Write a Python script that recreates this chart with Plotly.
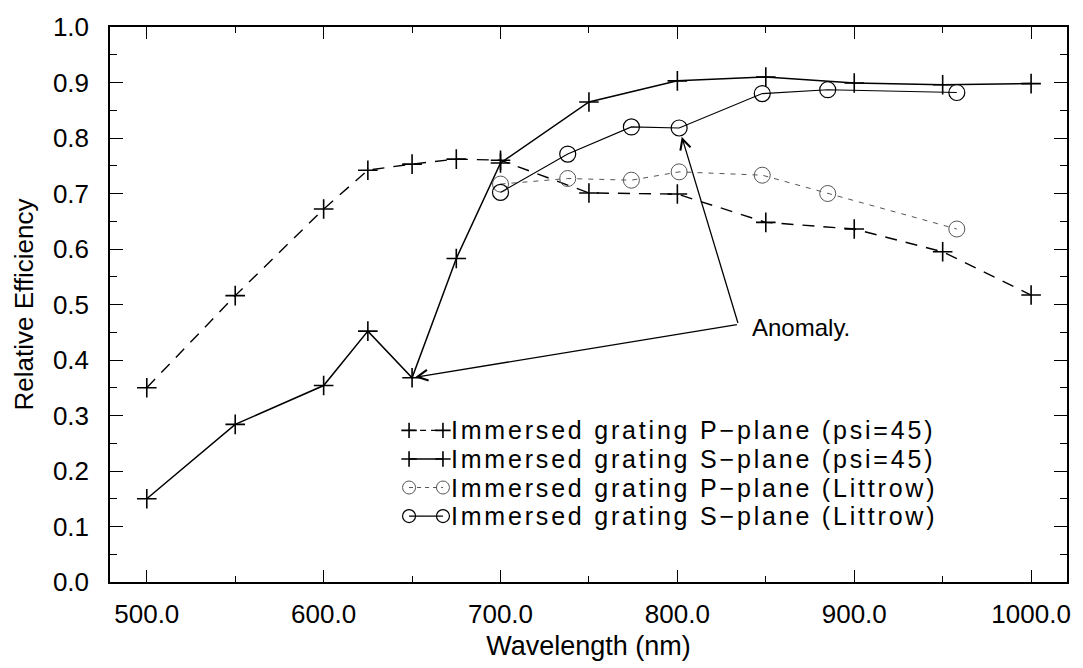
import plotly.graph_objects as go

# Immersed grating at psi=45: measured wavelengths (nm) and relative efficiency
wl_psi = [500, 550, 600, 625, 650, 675, 700, 750, 800, 850, 900, 950, 1000]
eff_p_psi = [0.350, 0.516, 0.672, 0.742, 0.753, 0.762, 0.760, 0.701, 0.699, 0.648, 0.636, 0.595, 0.517]
eff_s_psi = [0.150, 0.284, 0.354, 0.452, 0.368, 0.583, 0.755, 0.865, 0.903, 0.910, 0.899, 0.896, 0.898]

# Immersed grating in Littrow configuration
wl_lit = [700, 738, 774, 801, 848, 885, 958]
eff_p_lit = [0.717, 0.727, 0.724, 0.739, 0.733, 0.700, 0.636]
eff_s_lit = [0.702, 0.771, 0.820, 0.818, 0.880, 0.887, 0.882]

names = [
    "Immersed grating P\u2212plane (psi=45)",
    "Immersed grating S\u2212plane (psi=45)",
    "Immersed grating P\u2212plane (Littrow)",
    "Immersed grating S\u2212plane (Littrow)",
]

x_ticks = [500, 600, 700, 800, 900, 1000]
x_ticktext = ["500.0", "600.0", "700.0", "800.0", "900.0", "1000.0"]
y_ticks = [0.0, 0.1, 0.2, 0.3, 0.4, 0.5, 0.6, 0.7, 0.8, 0.9, 1.0]
y_ticktext = [f"{v:.1f}" for v in y_ticks]

FONT = "Liberation Sans, Arial, Helvetica, sans-serif"
W, H = 1083, 668
M_L, M_R, M_T, M_B = 110, 13, 21, 76

# trace styles shared by the plot and the legend key
line_styles = [
    dict(color="black", width=1.4, dash="12px,9px"),
    dict(color="black", width=1.5),
    dict(color="#555555", width=1.0, dash="5px,6px"),
    dict(color="black", width=1.1),
]
marker_styles = [
    dict(symbol="cross-thin", line=dict(color="black", width=1.6)),
    dict(symbol="cross-thin", line=dict(color="black", width=1.6)),
    dict(symbol="circle-open", color="#555555", line=dict(color="#555555", width=1.0)),
    dict(symbol="circle-open", color="black", line=dict(color="black", width=1.2)),
]
plot_sizes = [14, 14, 16, 16]
key_sizes = [11, 11, 13, 13]
key_dashes = ["6px,5px", None, "4px,4px", None]
series = [(wl_psi, eff_p_psi), (wl_psi, eff_s_psi), (wl_lit, eff_p_lit), (wl_lit, eff_s_lit)]

fig = go.Figure()
for (xs, ys), name, ls, ms, sz in zip(series, names, line_styles, marker_styles, plot_sizes):
    fig.add_trace(go.Scatter(x=xs, y=ys, name=name, mode="lines+markers",
                             line=ls, marker=dict(size=sz, **ms), showlegend=False))

# Legend key drawn on a pixel-unit overlay axis: short sample with a marker at each end
LEG_X0, LEG_X1, LEG_TEXT_X = 410, 444, 450
LEG_TOP, LEG_STEP = 436, 29.4
for i, (name, ls, ms, sz, kd) in enumerate(zip(names, line_styles, marker_styles, key_sizes, key_dashes)):
    row_y = LEG_TOP + i * LEG_STEP
    key_line = dict(ls)
    if kd:
        key_line["dash"] = kd
    fig.add_trace(go.Scatter(
        x=[LEG_X0, LEG_X1], y=[row_y, row_y], mode="lines+markers",
        line=key_line, marker=dict(size=sz, **ms),
        xaxis="x2", yaxis="y2", showlegend=False, hoverinfo="skip",
    ))
    fig.add_annotation(
        x=LEG_TEXT_X, y=row_y, xref="x2", yref="y2",
        text=f'<span style="letter-spacing:2.8px">{name}</span>', showarrow=False,
        xanchor="left", yanchor="middle",
        font=dict(family=FONT, size=25, color="black"),
    )

# "Anomaly." callout: two arrows from a common vertex
vertex_x, vertex_y = 834.5, 0.464
arrow_common = dict(
    text="", showarrow=True, arrowhead=5, arrowsize=1.6, arrowwidth=1.3,
    arrowcolor="black", axref="x", ayref="y", ax=vertex_x, ay=vertex_y,
)
fig.add_annotation(x=wl_psi[4], y=eff_s_psi[4], standoff=3, **arrow_common)
fig.add_annotation(x=wl_lit[3], y=eff_s_lit[3], standoff=9, **arrow_common)
fig.add_annotation(
    x=841, y=0.458, text="Anomaly.", showarrow=False,
    xanchor="left", yanchor="middle",
    font=dict(family=FONT, size=24, color="black"),
)

axis_common = dict(
    showgrid=False, zeroline=False, showline=True, linecolor="black", linewidth=1.5,
    mirror="ticks", ticks="inside", tickcolor="black", tickwidth=1.3,
    tickfont=dict(family=FONT, size=26, color="black"),
)

fig.update_xaxes(
    range=[479.2, 1020.3], tickvals=x_ticks, ticktext=x_ticktext, ticklen=12,
    minor=dict(dtick=50, tick0=500, ticks="inside", ticklen=6, tickcolor="black", tickwidth=1.2),
    ticklabelstandoff=8,
    title=dict(text="Wavelength (nm)", font=dict(family=FONT, size=27, color="black"), standoff=8),
    **axis_common,
)
fig.update_yaxes(
    range=[0, 1.0], tickvals=y_ticks, ticktext=y_ticktext, ticklen=13,
    minor=dict(dtick=0.05, tick0=0, ticks="inside", ticklen=7, tickcolor="black", tickwidth=1.2),
    ticklabelstandoff=14,
    title=dict(text="Relative Efficiency", font=dict(family=FONT, size=26, color="black"), standoff=12),
    **axis_common,
)

# overlay axes in pixel units for the legend key
fig.update_layout(
    xaxis2=dict(overlaying="x", range=[M_L, W - M_R], visible=False, fixedrange=True),
    yaxis2=dict(overlaying="y", range=[H - M_B, M_T], visible=False, fixedrange=True),
)

fig.update_layout(
    width=W, height=H,
    margin=dict(l=M_L, r=M_R, t=M_T, b=M_B),
    paper_bgcolor="white", plot_bgcolor="white",
    font=dict(family=FONT, size=26, color="black"),
    showlegend=False,
)

fig.write_html("out.html")
